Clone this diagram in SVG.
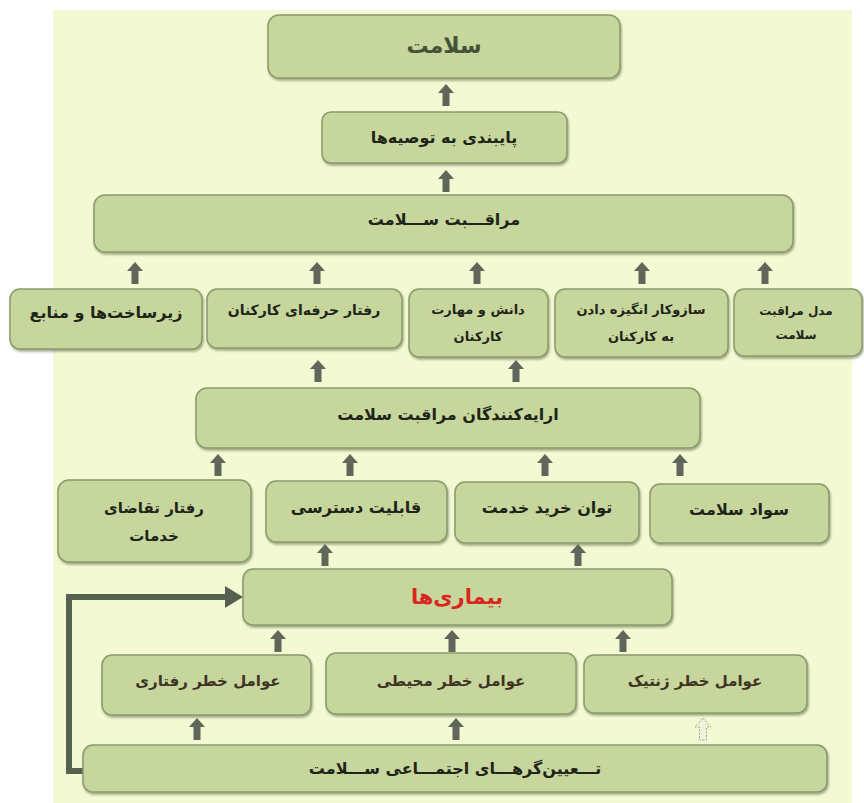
<svg xmlns="http://www.w3.org/2000/svg" xmlns:xlink="http://www.w3.org/1999/xlink" width="864" height="803" viewBox="0 0 864 803">
<defs>
<filter id="sh" x="-5%" y="-5%" width="110%" height="120%">
<feDropShadow dx="1" dy="2" stdDeviation="1" flood-color="#5d6b45" flood-opacity="0.55"/>
</filter>
<path id="up" d="M0,0 L8,9 L3.5,9 L3.5,22 L-3.5,22 L-3.5,9 L-8,9 Z"/>
</defs>
<style>
.box{fill:#c6d69c;stroke:#8a9b6b;stroke-width:1.5;filter:url(#sh)}
.t{font-family:"DejaVu Sans","Noto Sans",sans-serif;font-weight:bold;font-size:15px;fill:#1f2419;text-anchor:middle;direction:rtl}
.s{font-size:13px}
.br{fill:#3e3325}
.arr{fill:#60675a}
.faded{fill:#eef2d6;stroke:#9fa58d;stroke-width:1;stroke-dasharray:2 1.5}
</style>
<rect x="0" y="0" width="864" height="803" fill="#ffffff"/>
<rect x="53" y="10" width="799" height="793" fill="#f3f9d3"/>

<g id="connectors">
<use xlink:href="#up" class="arr" transform="translate(446,84)"/>
<use xlink:href="#up" class="arr" transform="translate(446,170)"/>
<use xlink:href="#up" class="arr" transform="translate(135,262)"/>
<use xlink:href="#up" class="arr" transform="translate(317,262)"/>
<use xlink:href="#up" class="arr" transform="translate(477,262)"/>
<use xlink:href="#up" class="arr" transform="translate(642,262)"/>
<use xlink:href="#up" class="arr" transform="translate(765,262)"/>
<use xlink:href="#up" class="arr" transform="translate(318,360)"/>
<use xlink:href="#up" class="arr" transform="translate(516,360)"/>
<use xlink:href="#up" class="arr" transform="translate(218,454)"/>
<use xlink:href="#up" class="arr" transform="translate(350,454)"/>
<use xlink:href="#up" class="arr" transform="translate(545,454)"/>
<use xlink:href="#up" class="arr" transform="translate(680,454)"/>
<use xlink:href="#up" class="arr" transform="translate(325,544)"/>
<use xlink:href="#up" class="arr" transform="translate(578,544)"/>
<use xlink:href="#up" class="arr" transform="translate(278,630)"/>
<use xlink:href="#up" class="arr" transform="translate(452,630)"/>
<use xlink:href="#up" class="arr" transform="translate(623,630)"/>
<use xlink:href="#up" class="arr" transform="translate(197,718)"/>
<use xlink:href="#up" class="arr" transform="translate(456,718)"/>
<use xlink:href="#up" class="faded" transform="translate(703,718)"/>
<path d="M84,771 H69 V597 H228" fill="none" stroke="#566050" stroke-width="6"/>
<polygon points="225,586 243,597 225,608" fill="#566050"/>
</g>

<g id="n-salamat">
<rect class="box" x="268" y="15" width="352" height="63" rx="11"/>
<text class="t" x="444" y="53" style="font-size:22px;fill:#46523a">سلامت</text>
</g>
<g id="n-paybandi">
<rect class="box" x="322" y="112" width="245" height="51" rx="9"/>
<text class="t" x="444" y="143" style="font-size:16px">پایبندی به توصیه‌ها</text>
</g>
<g id="n-moraghebat">
<rect class="box" x="94" y="195" width="699" height="57" rx="11"/>
<text class="t" x="444" y="225" style="font-size:16px">مراقـــبت ســـلامت</text>
</g>

<g id="n-zirsakht">
<rect class="box" x="10" y="289" width="192" height="60" rx="10"/>
<text class="t" x="106" y="318" style="font-size:16px">زیرساخت‌ها و منابع</text>
</g>
<g id="n-raftar-herfei">
<rect class="box" x="207" y="289" width="195" height="59" rx="10"/>
<text class="t" x="304" y="315" style="font-size:14px">رفتار حرفه‌ای کارکنان</text>
</g>
<g id="n-danesh">
<rect class="box" x="409" y="289" width="139" height="68" rx="10"/>
<text class="t s" x="478" y="314">دانش و مهارت</text>
<text class="t s" x="478" y="341">کارکنان</text>
</g>
<g id="n-sazokar">
<rect class="box" x="555" y="289" width="173" height="68" rx="10"/>
<text class="t s" x="641" y="314">سازوکار انگیزه دادن</text>
<text class="t s" x="641" y="341">به کارکنان</text>
</g>
<g id="n-model">
<rect class="box" x="734" y="289" width="128" height="67" rx="10"/>
<text class="t" x="796" y="315" style="font-size:12px">مدل مراقبت</text>
<text class="t" x="796" y="339" style="font-size:12px">سلامت</text>
</g>

<g id="n-erae">
<rect class="box" x="196" y="388" width="504" height="60" rx="11"/>
<text class="t" x="448" y="420" style="font-size:16px">ارایه‌کنندگان مراقبت سلامت</text>
</g>

<g id="n-taghaza">
<rect class="box" x="58" y="480" width="193" height="82" rx="11"/>
<text class="t" x="154" y="513">رفتار تقاضای</text>
<text class="t" x="154" y="541">خدمات</text>
</g>
<g id="n-dastresi">
<rect class="box" x="266" y="481" width="181" height="61" rx="10"/>
<text class="t" x="356" y="513" style="font-size:16px">قابلیت دسترسی</text>
</g>
<g id="n-tavan">
<rect class="box" x="455" y="482" width="184" height="61" rx="10"/>
<text class="t" x="547" y="513" style="font-size:16px">توان خرید خدمت</text>
</g>
<g id="n-savad">
<rect class="box" x="650" y="484" width="179" height="59" rx="10"/>
<text class="t" x="739" y="515" style="font-size:16px">سواد سلامت</text>
</g>

<g id="n-bimari">
<rect class="box" x="243" y="569" width="429" height="56" rx="10"/>
<text class="t" x="457" y="604" style="font-size:21px;fill:#d8261f">بیماری‌ها</text>
</g>

<g id="n-raftari">
<rect class="box" x="102" y="655" width="209" height="60" rx="10"/>
<text class="t br" x="208" y="686">عوامل خطر رفتاری</text>
</g>
<g id="n-mohiti">
<rect class="box" x="326" y="653" width="250" height="61" rx="10"/>
<text class="t br" x="451" y="686">عوامل خطر محیطی</text>
</g>
<g id="n-zhenetik">
<rect class="box" x="584" y="655" width="223" height="58" rx="10"/>
<text class="t br" x="695" y="686">عوامل خطر ژنتیک</text>
</g>

<g id="n-taeen">
<rect class="box" x="83" y="745" width="744" height="47" rx="10"/>
<text class="t" x="455" y="774" style="font-size:16px">تـــعیین‌گرهـــای اجتمـــاعی ســـلامت</text>
</g>
</svg>
